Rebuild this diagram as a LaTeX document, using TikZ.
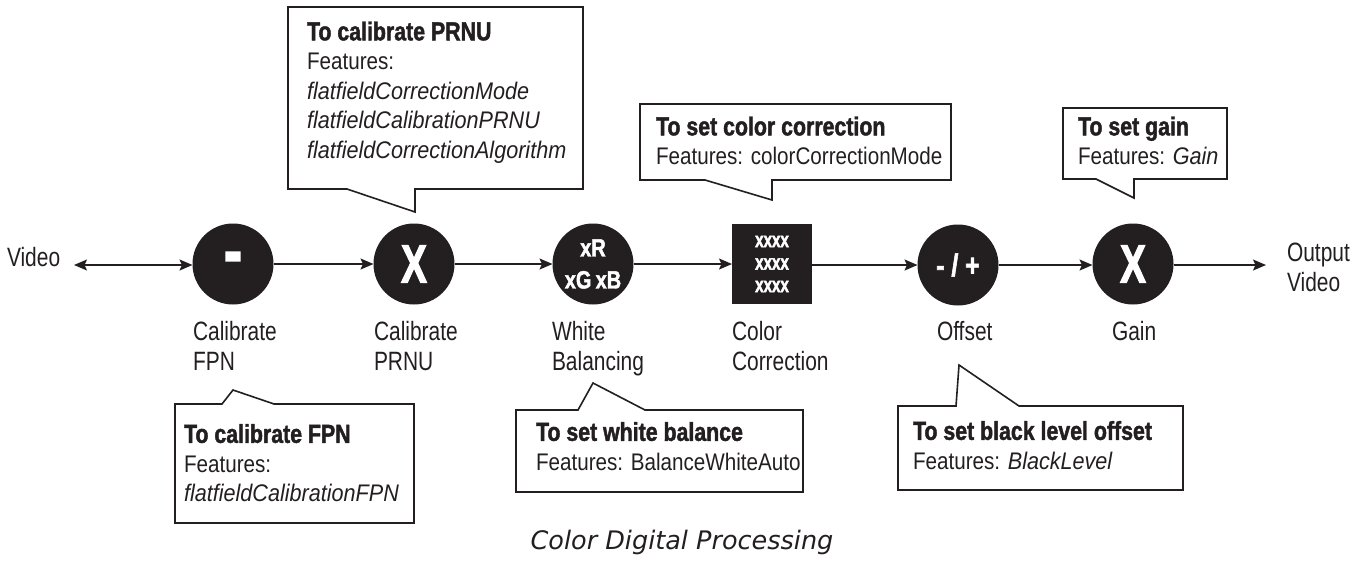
\documentclass[tikz,border=0pt]{standalone}
\usepackage{fontspec}
\setmainfont{Liberation Sans}[FakeStretch=0.86, ItalicFeatures={FakeStretch=0.9}]
\newfontfamily\lblfont{Liberation Sans}[FakeStretch=0.79]
\newfontfamily\titlefont{Liberation Sans}[FakeStretch=0.82, BoldFeatures={FakeBold=1.6}]
\newfontfamily\symfont{Liberation Sans}[FakeStretch=0.72, BoldFeatures={FakeBold=2}]
\newfontfamily\wbfont{Liberation Sans}[FakeStretch=0.8, BoldFeatures={FakeBold=1.8}]
\newfontfamily\capfont{DejaVu Sans}
\usetikzlibrary{arrows.meta}
\definecolor{ink}{HTML}{231F20}
\begin{document}
\begin{tikzpicture}[x=1pt,y=-1pt,
  every node/.style={text=ink, inner sep=0pt, outer sep=0pt},
  proc/.style={circle, fill=ink, minimum size=81pt, text=white},
  sqproc/.style={rectangle, fill=ink, minimum size=80pt, text=white},
  conn/.style={draw=ink, line width=1.5pt, -{Stealth[length=13pt,width=11pt,inset=2.5pt]}},
  dconn/.style={draw=ink, line width=1.5pt, {Stealth[length=13pt,width=11pt,inset=2.5pt]}-{Stealth[length=13pt,width=11pt,inset=2.5pt]}},
  callout/.style={draw=ink, line width=1.6pt, line join=miter},
  lbl/.style={anchor=north west, align=left, font=\lblfont\fontsize{26.5}{30}\selectfont},
  ctext/.style={anchor=north west, align=left, font=\fontsize{24}{29.5}\selectfont},
  sym/.style={font=\symfont\bfseries\fontsize{54}{54}\selectfont},
]
\useasboundingbox (0,0) rectangle (1364,560);

% processing nodes
\node[proc, font=\symfont\bfseries\fontsize{75}{75}\selectfont] (fpn) at (233,264) {-};
\node[proc, sym] (prnu) at (414,264) {X};
\node[proc, align=center, font=\wbfont\bfseries\fontsize{25}{32}\selectfont] (wb) at (593,264) {xR\\xG\,xB};
\node[sqproc, align=center, font=\symfont\bfseries\fontsize{21}{22.5}\selectfont] (cc) at (772,264) {xxxx\\xxxx\\xxxx};
\node[proc, font=\wbfont\bfseries\fontsize{31}{31}\selectfont] (off) at (958,265) {- / +};
\node[proc, sym] (gain) at (1133,264) {X};

% input / output
\node[anchor=base west, font=\lblfont\fontsize{26.5}{30}\selectfont] (vin) at (7,266) {Video};
\node[anchor=north west, align=left, font=\lblfont\fontsize{26.5}{30}\selectfont] (vout) at (1287,243) {Output\\Video};
\coordinate (vinend) at (74,265);
\coordinate (voutend) at (1266,265);

% connectors
\draw[dconn] (vinend) -- (fpn.west |- vinend);
\draw[conn] (fpn) -- (prnu);
\draw[conn] (prnu) -- (wb);
\draw[conn] (wb) -- (cc);
\draw[conn] (cc.east |- off) -- (off);
\draw[conn] (off) -- (gain.west |- off);
\draw[conn] (gain.east |- voutend) -- (voutend);

% labels
\node[lbl] (lfpn) at (193,321) {Calibrate\\FPN};
\node[lbl] (lprnu) at (374,321) {Calibrate\\PRNU};
\node[lbl] (lwb) at (552,321) {White\\Balancing};
\node[lbl] (lcc) at (732,321) {Color\\Correction};
\node[lbl] (loff) at (937,321) {Offset};
\node[lbl] (lgain) at (1112,321) {Gain};

% callouts (outlines)
\draw[callout] (288,7) -- (583,7) -- (583,189) -- (415,189) -- (415,212) -- (347,189) -- (288,189) -- cycle;
\draw[callout] (640,104) -- (951,104) -- (951,180) -- (772,180) -- (772,200) -- (705,180) -- (640,180) -- cycle;
\draw[callout] (1063,108) -- (1227,108) -- (1227,179) -- (1134,179) -- (1134,198) -- (1096,179) -- (1063,179) -- cycle;
\draw[callout] (175,404) -- (222,404) -- (233,390) -- (274,404) -- (414,404) -- (414,523) -- (175,523) -- cycle;
\draw[callout] (516,410) -- (578,410) -- (593,383) -- (645,410) -- (803,410) -- (803,492) -- (516,492) -- cycle;
\draw[callout] (898,406) -- (956,406) -- (959,365) -- (1019,406) -- (1183,406) -- (1183,490) -- (898,490) -- cycle;

% callout texts
\node[ctext] (tprnu) at (307,21.5) {{\titlefont\bfseries\fontsize{26}{29.5}\selectfont To calibrate PRNU}\\Features:\\\textit{flatfieldCorrectionMode}\\\textit{flatfieldCalibrationPRNU}\\\textit{flatfieldCorrectionAlgorithm}};
\node[ctext] (tcc) at (656,116.5) {{\titlefont\bfseries\fontsize{26}{29.5}\selectfont To set color correction}\\Features: colorCorrectionMode};
\node[ctext] (tgain) at (1078,116.5) {{\titlefont\bfseries\fontsize{26}{29.5}\selectfont To set gain}\\Features: \textit{Gain}};
\node[ctext] (tfpn) at (184,424) {{\titlefont\bfseries\fontsize{26}{29.5}\selectfont To calibrate FPN}\\Features:\\\textit{flatfieldCalibrationFPN}};
\node[ctext] (twb) at (536,422) {{\titlefont\bfseries\fontsize{26}{29.5}\selectfont To set white balance}\\Features: BalanceWhiteAuto};
\node[ctext] (tbl) at (913,421) {{\titlefont\bfseries\fontsize{26}{29.5}\selectfont To set black level offset}\\Features: \textit{BlackLevel}};

% caption
\node[anchor=base, font=\capfont\itshape\fontsize{25.5}{28}\selectfont] (cap) at (682,549) {Color Digital Processing};
\end{tikzpicture}
\end{document}
